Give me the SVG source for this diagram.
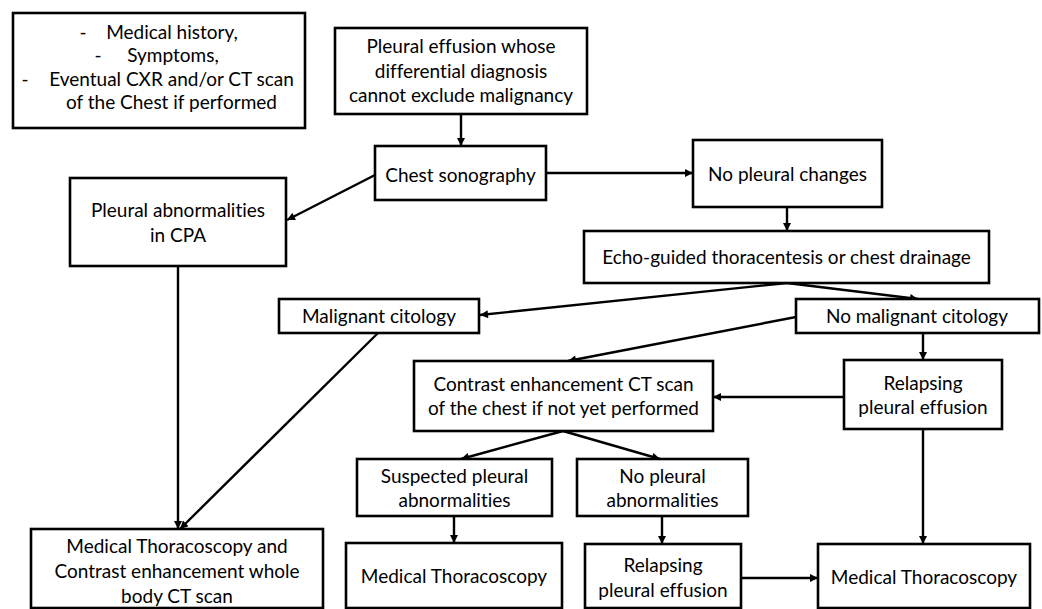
<svg xmlns="http://www.w3.org/2000/svg" width="1042" height="609" viewBox="0 0 1042 609">
<defs>
<style>
.box{fill:#fff;stroke:#000;stroke-width:2.6}
.t{font-family:Lato,"Liberation Sans",sans-serif;font-size:19px;fill:#000;text-anchor:middle;font-variant-ligatures:none;font-feature-settings:"liga" 0,"clig" 0}
.c line{stroke:#000;stroke-width:2.4;marker-end:url(#ah)}
</style>
<marker id="ah" viewBox="0 0 10 10" refX="10" refY="5" markerWidth="9" markerHeight="8" markerUnits="userSpaceOnUse" orient="auto">
<path d="M0,0 L10,5 L0,10 z" fill="#000"/>
</marker>
</defs>
<rect width="1042" height="609" fill="#fff"/>
<g class="c" id="connectors">
<line x1="461" y1="114" x2="461" y2="146"/>
<line x1="375" y1="175" x2="287" y2="220"/>
<line x1="546" y1="173" x2="693" y2="173"/>
<line x1="178" y1="266" x2="178" y2="529"/>
<line x1="787" y1="207" x2="787" y2="231"/>
<line x1="787" y1="283" x2="480" y2="315"/>
<line x1="787" y1="283" x2="918" y2="299"/>
<line x1="378" y1="333" x2="180" y2="529"/>
<line x1="796" y1="317" x2="568" y2="361"/>
<line x1="923" y1="333" x2="923" y2="360"/>
<line x1="844" y1="397" x2="713" y2="397"/>
<line x1="563" y1="431" x2="461" y2="459"/>
<line x1="563" y1="431" x2="660" y2="459"/>
<line x1="454" y1="516" x2="454" y2="543"/>
<line x1="662" y1="516" x2="662" y2="544"/>
<line x1="923" y1="429" x2="923" y2="544"/>
<line x1="741" y1="578" x2="818" y2="578"/>
</g>
<g id="n-info">
<rect class="box" x="13" y="13" width="292" height="115"/>
<text class="t" y="39"><tspan x="83">-</tspan><tspan x="172">Medical history,</tspan></text>
<text class="t" y="62"><tspan x="98">-</tspan><tspan x="173">Symptoms,</tspan></text>
<text class="t" y="86"><tspan x="25">-</tspan><tspan x="171.5">Eventual CXR and/or CT scan</tspan></text>
<text class="t" x="171.5" y="109">of the Chest if performed</text>
</g>
<g id="n-effusion">
<rect class="box" x="335" y="28" width="252" height="86"/>
<text class="t" x="461" y="53">Pleural effusion whose</text>
<text class="t" x="461" y="77.5">differential diagnosis</text>
<text class="t" x="461" y="102">cannot exclude malignancy</text>
</g>
<g id="n-sono">
<rect class="box" x="375" y="146" width="171" height="54"/>
<text class="t" x="460.5" y="182">Chest sonography</text>
</g>
<g id="n-nochanges">
<rect class="box" x="693" y="140" width="189" height="67"/>
<text class="t" x="787.5" y="181">No pleural changes</text>
</g>
<g id="n-cpa">
<rect class="box" x="70" y="178" width="216" height="88"/>
<text class="t" x="178" y="217">Pleural abnormalities</text>
<text class="t" x="178" y="242">in CPA</text>
</g>
<g id="n-echo">
<rect class="box" x="584" y="231" width="405" height="52"/>
<text class="t" x="786.5" y="264">Echo-guided thoracentesis or chest drainage</text>
</g>
<g id="n-malig">
<rect class="box" x="279" y="299" width="200" height="34"/>
<text class="t" x="379" y="323">Malignant citology</text>
</g>
<g id="n-nomalig">
<rect class="box" x="796" y="299" width="243" height="34"/>
<text class="t" x="917" y="323">No malignant citology</text>
</g>
<g id="n-contrast">
<rect class="box" x="414" y="361" width="299" height="70"/>
<text class="t" x="563.5" y="391">Contrast enhancement CT scan</text>
<text class="t" x="563.5" y="415">of the chest if not yet performed</text>
</g>
<g id="n-relapse1">
<rect class="box" x="844" y="360" width="158" height="69"/>
<text class="t" x="923" y="390">Relapsing</text>
<text class="t" x="923" y="414">pleural effusion</text>
</g>
<g id="n-suspected">
<rect class="box" x="357" y="459" width="195" height="57"/>
<text class="t" x="454.5" y="483">Suspected pleural</text>
<text class="t" x="454.5" y="507">abnormalities</text>
</g>
<g id="n-nopleural">
<rect class="box" x="577" y="459" width="171" height="57"/>
<text class="t" x="662.5" y="483">No pleural</text>
<text class="t" x="662.5" y="507">abnormalities</text>
</g>
<g id="n-mt-left">
<rect class="box" x="31" y="529" width="292" height="79"/>
<text class="t" x="177" y="553">Medical Thoracoscopy and</text>
<text class="t" x="177" y="578">Contrast enhancement whole</text>
<text class="t" x="177" y="603">body CT scan</text>
</g>
<g id="n-mt-mid">
<rect class="box" x="346" y="543" width="216" height="65"/>
<text class="t" x="454" y="583">Medical Thoracoscopy</text>
</g>
<g id="n-relapse2">
<rect class="box" x="585" y="544" width="156" height="64"/>
<text class="t" x="663" y="572">Relapsing</text>
<text class="t" x="663" y="597">pleural effusion</text>
</g>
<g id="n-mt-right">
<rect class="box" x="818" y="544" width="212" height="64"/>
<text class="t" x="924" y="584">Medical Thoracoscopy</text>
</g>
</svg>
